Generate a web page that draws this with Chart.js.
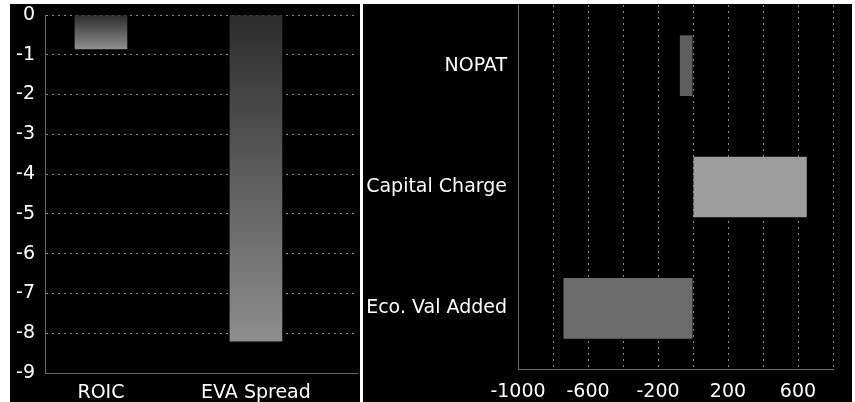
<!DOCTYPE html>
<html>
<head>
<meta charset="utf-8">
<script src="https://cdn.jsdelivr.net/npm/chart.js@4/dist/chart.umd.min.js"></script>
<style>
  body { margin: 0; background: #fff; width: 855px; height: 402px; overflow: hidden; }
  .painel { position: absolute; background: #000; }
  #painelEsq { left: 10px; top: 4px; width: 350px; height: 398px; }
  #painelDir { left: 363px; top: 4px; width: 489px; height: 398px; }
</style>
</head>
<body>
<div class="painel" id="painelEsq"><canvas id="graficoSpread"></canvas></div>
<div class="painel" id="painelDir"><canvas id="graficoEva"></canvas></div>
<script>
// dados
const spreadLabels = ['ROIC', 'EVA Spread'];
const spreadValores = [-0.85, -8.2];
const spreadTicks = [0, -1, -2, -3, -4, -5, -6, -7, -8, -9];

const evaLabels = ['NOPAT', 'Capital Charge', 'Eco. Val Added'];
const evaValores = [-75, 650, -740];
const evaCores = ['#5e5e5e', '#9c9c9c', '#6c6c6c'];

const fonte = { family: 'DejaVu Sans', size: 19 };
// lineHeight pequeno para o eixo vertical não reservar espaço em cima
const fonteEixoY = { family: 'DejaVu Sans', size: 19, lineHeight: 0.1 };
const corGrade = '#858585';
const corBorda = '#6a6a6a';

// degradê do topo (zero) até a ponta da barra
function corBarra(context) {
    const chart = context.chart;
    if (!chart.chartArea || !context.parsed) return '#707070';
    const y = chart.scales.y;
    const g = chart.ctx.createLinearGradient(0, y.getPixelForValue(0), 0, y.getPixelForValue(context.parsed.y));
    g.addColorStop(0, '#2c2c2c');
    g.addColorStop(1, '#8e8e8e');
    return g;
}

new Chart(document.getElementById('graficoSpread'), {
    type: 'bar',
    data: {
        datasets: [{
            label: 'Spread',
            data: spreadValores.map((v, i) => ({ x: i, y: v })),
            backgroundColor: corBarra,
            barThickness: 52
        }]
    },
    options: {
        responsive: true,
        maintainAspectRatio: false,
        animation: false,
        layout: { padding: { top: 11, right: 3 } },
        plugins: { legend: { display: false }, tooltip: { enabled: false } },
        scales: {
            x: {
                type: 'linear',
                min: -0.361,
                max: 1.652,
                offset: false,
                afterBuildTicks: (scale) => { scale.ticks = spreadLabels.map((_, i) => ({ value: i })); },
                afterFit: (scale) => { scale.height = 29; },
                grid: { display: false, offset: false },
                border: { display: true, color: corBorda },
                ticks: {
                    color: '#fff',
                    font: fonte,
                    padding: 1,
                    maxRotation: 0,
                    autoSkip: false,
                    callback: (v) => spreadLabels[v]
                }
            },
            y: {
                min: -9,
                max: 0,
                afterBuildTicks: (scale) => { scale.ticks = spreadTicks.map(v => ({ value: v })); },
                afterFit: (scale) => { scale.width = 35; },
                grid: { color: corGrade, drawTicks: true, tickLength: 10, tickColor: 'transparent' },
                border: { display: true, color: corBorda, dash: [2, 4] },
                ticks: { color: '#fff', font: fonteEixoY, padding: 0, callback: (v) => String(v) }
            }
        }
    }
});

new Chart(document.getElementById('graficoEva'), {
    type: 'bar',
    data: {
        labels: evaLabels,
        datasets: [{
            label: 'EVA',
            data: evaValores,
            backgroundColor: evaCores,
            barPercentage: 0.5,
            categoryPercentage: 1
        }]
    },
    options: {
        indexAxis: 'y',
        responsive: true,
        maintainAspectRatio: false,
        animation: false,
        layout: { padding: { top: 1, right: 19 } },
        plugins: { legend: { display: false }, tooltip: { enabled: false } },
        scales: {
            x: {
                min: -1000,
                max: 800,
                afterFit: (scale) => { scale.height = 33; },
                grid: { color: corGrade, drawTicks: false },
                border: { display: true, color: corBorda, dash: [2, 4] },
                ticks: {
                    stepSize: 200,
                    color: '#fff',
                    font: fonte,
                    padding: 12,
                    autoSkip: false,
                    maxRotation: 0,
                    // só mostra de 400 em 400 a partir de -1000
                    callback: (v) => ((v + 1000) % 400 === 0 ? String(v) : '')
                }
            },
            y: {
                afterFit: (scale) => { scale.width = 155; },
                grid: { display: false, drawTicks: true, tickLength: 11 },
                border: { display: true, color: corBorda },
                ticks: { color: '#fff', font: fonteEixoY, padding: 0 }
            }
        }
    }
});
</script>
</body>
</html>
